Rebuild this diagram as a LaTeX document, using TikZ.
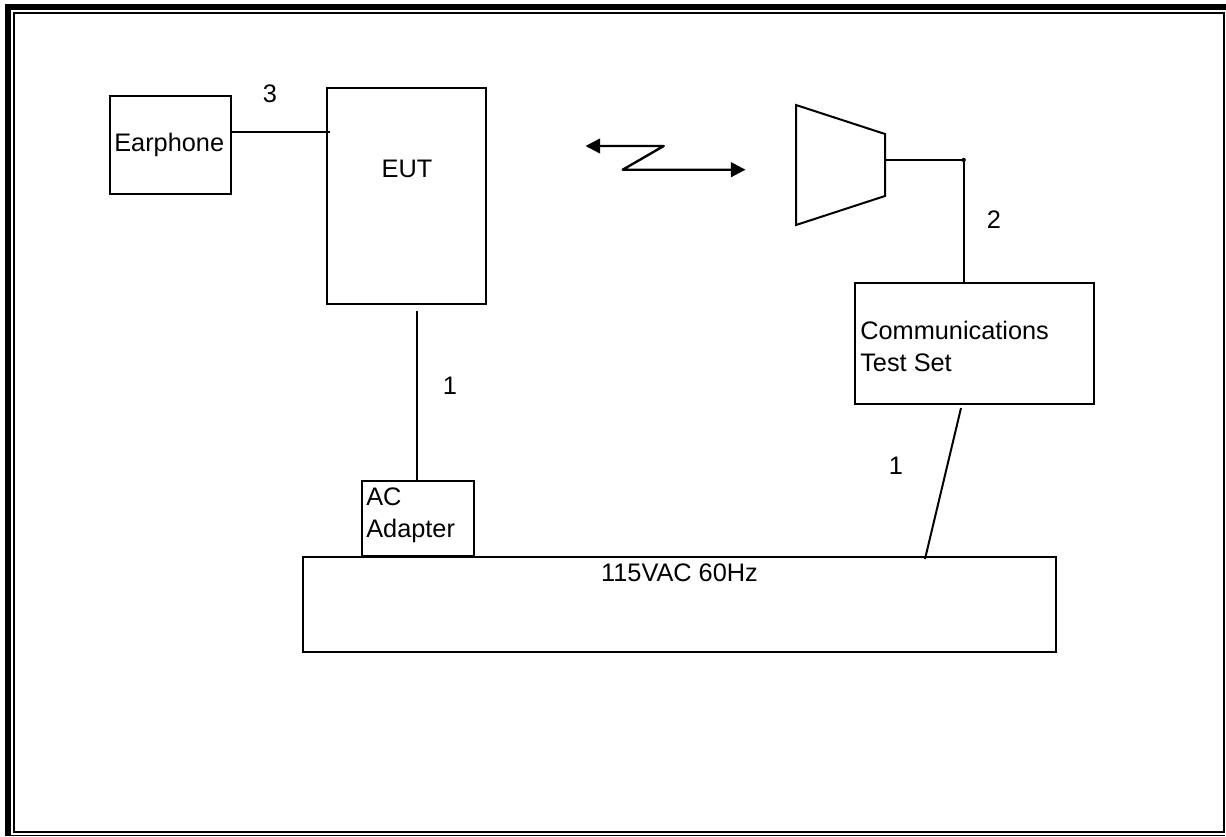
\documentclass[tikz,border=0pt]{standalone}
\usepackage{fontspec}
\setmainfont{Liberation Sans}
\usetikzlibrary{arrows.meta}
\tikzset{
  x=0.75pt,y=-0.75pt,
  wire/.style={draw=black,line width=1.5pt},
  thinwire/.style={draw=black,line width=1.5pt},
  blockbox/.style={draw=black,line width=1.5pt,inner sep=0pt,outer sep=0pt,anchor=north west},
  lbl/.style={inner sep=0pt,anchor=base,font=\fontsize{19pt}{22pt}\selectfont,text=black},
  lblw/.style={lbl,anchor=base west},
  radio/.style={draw=black,line width=1.8pt,line join=round,{Triangle[length=11pt,width=11pt]}-{Triangle[length=11pt,width=11pt]}},
}
\newcommand{\bx}[5]{\node[blockbox,minimum width=#4*0.75pt,minimum height=#5*0.75pt] (#1) at (#2,#3) {};}
\begin{document}
\begin{tikzpicture}
\useasboundingbox (0,0) rectangle (1226,836);
\fill[white] (0,0) rectangle (1226,836);
% page border
\fill[black] (5,4) rectangle (1226,10);
\fill[black] (5,4) rectangle (11,836);
\fill[black] (13,12) rectangle (1225,14);
\fill[black] (13,12) rectangle (15,833);
\fill[black] (1222.5,12) rectangle (1225,833);
\fill[black] (13,830.7) rectangle (1225,833);
\fill[black] (11,835) rectangle (1225,836);
% boxes
\bx{ear}{110}{95.5}{120.5}{98}
\bx{eut}{327}{88}{159}{216}
\bx{comm}{855}{283}{239}{120.5}
\bx{adp}{361.5}{481}{112.5}{74.5}
\bx{mains}{303}{557}{753}{95}
% labels in boxes
\node[lblw] (tear) at (114,151.7) {Earphone};
\node[lbl] (teut) at (407,177) {EUT};
\node[lblw] (tc1) at (860,339) {Communications};
\node[lblw] (tc2) at (860,371) {Test Set};
\node[lblw] (ta1) at (366,505.7) {AC};
\node[lblw] (ta2) at (366,537) {Adapter};
\node[lbl] (tm) at (679.5,581.7) {115VAC 60Hz};
% numbers
\node[lbl] (n3) at (270,102) {3};
\node[lbl] (n1a) at (450,394) {1};
\node[lbl] (n2) at (994,228) {2};
\node[lbl] (n1b) at (896,474) {1};
% antenna
\coordinate (a1) at (796,105);
\coordinate (a2) at (885,134);
\coordinate (a3) at (885,196);
\coordinate (a4) at (796,225);
\coordinate (ajoin) at (885,160);
\coordinate (acorner) at (963.7,160);
\draw[wire,line join=miter] (a1) -- (a2) -- (a3) -- (a4) -- cycle;
\draw[thinwire] (ajoin) -- (acorner) -- (comm.north -| acorner);
\fill[black] (acorner) circle (1.6pt);
% zigzag
\coordinate (z1) at (585.5,146);
\coordinate (z2) at (663.7,146);
\coordinate (z3) at (622.7,169.7);
\coordinate (z4) at (745.5,169.7);
\draw[radio] (z1) -- (z2) -- (z3) -- (z4);
% connectors
\coordinate (e1) at (232,132);
\coordinate (e2) at (330,132);
\draw[thinwire] (e1) -- (e2);
\coordinate (ad0) at (417,311);
\draw[thinwire] (ad0) -- (adp.north -| ad0);
\coordinate (c0) at (961,408);
\coordinate (c1) at (925,559);
\draw[thinwire] (c0) -- (c1);
\end{tikzpicture}
\end{document}
